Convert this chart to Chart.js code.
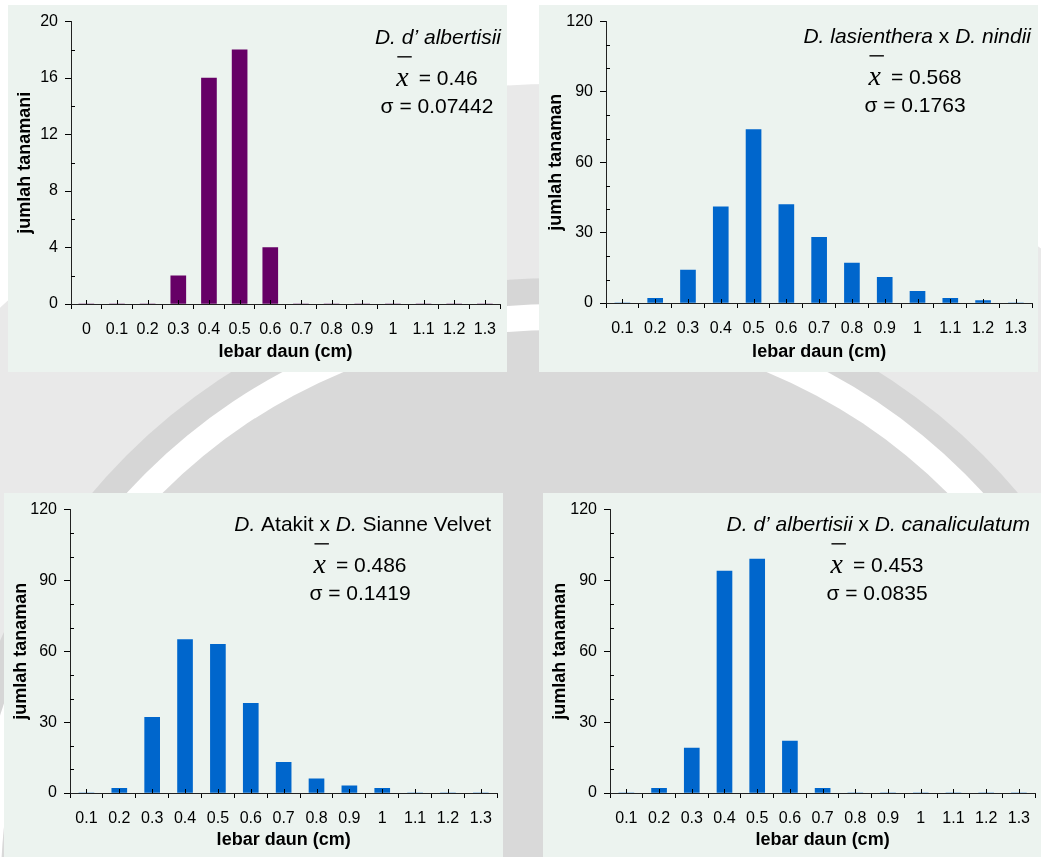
<!DOCTYPE html>
<html>
<head>
<meta charset="utf-8">
<script src="https://cdn.jsdelivr.net/npm/chart.js@4.4.0/dist/chart.umd.min.js"></script>
<style>
  html, body { margin: 0; padding: 0; background: #fff; }
  body { width: 1041px; height: 857px; position: relative; overflow: hidden; }
  .wm { position: absolute; border-radius: 50%; }
  .panel { position: absolute; background: #ecf3ef; }
  .panel canvas { display: block; }
</style>
</head>
<body>
<!-- watermark latar (lingkaran abu-abu) -->
<div class="wm" style="left:-245px;top:84px;width:1600px;height:1600px;background:#e9e9e9"></div>
<div class="wm" style="left:-51px;top:278px;width:1212px;height:1212px;background:#d6d6d6"></div>
<div class="wm" style="left:-25px;top:304px;width:1160px;height:1160px;background:#fff"></div>
<div class="wm" style="left:1px;top:330px;width:1108px;height:1108px;background:#d9d9d9"></div>

<div class="panel" style="left:8px;top:5px;width:499px;height:367px"><canvas id="c1" width="499" height="367"></canvas></div>
<div class="panel" style="left:539px;top:5px;width:499px;height:367px"><canvas id="c2" width="499" height="367"></canvas></div>
<div class="panel" style="left:4px;top:493px;width:499px;height:364px"><canvas id="c3" width="499" height="364"></canvas></div>
<div class="panel" style="left:543px;top:493px;width:498px;height:364px"><canvas id="c4" width="498" height="364"></canvas></div>
<script>
// kelas lebar daun (cm)
var lebar1 = ['0', '0.1', '0.2', '0.3', '0.4', '0.5', '0.6', '0.7', '0.8', '0.9', '1', '1.1', '1.2', '1.3'];
var lebar = ['0.1', '0.2', '0.3', '0.4', '0.5', '0.6', '0.7', '0.8', '0.9', '1', '1.1', '1.2', '1.3'];

// jumlah tanaman per kelas
var jumlah1 = [0, 0, 0, 2, 16, 18, 4, 0, 0, 0, 0, 0, 0, 0];   // D. d' albertisii
var jumlah2 = [0, 2, 14, 41, 74, 42, 28, 17, 11, 5, 2, 1, 0]; // D. lasienthera x D. nindii
var jumlah3 = [0, 2, 32, 65, 63, 38, 13, 6, 3, 2, 0, 0, 0];   // D. Atakit x D. Sianne Velvet
var jumlah4 = [0, 2, 19, 94, 99, 22, 2, 0, 0, 0, 0, 0, 0];    // D. d' albertisii x D. canaliculatum

// label sumbu y
var yTicks1 = [0, 4, 8, 12, 16, 20];
var yTicks = [0, 30, 60, 90, 120];

var FONT = "'Liberation Sans', Arial, sans-serif";

// tick kecil, judul spesies, rata-rata dan simpangan baku
var hiasan = {
  id: 'hiasan',
  afterDatasetsDraw: function(chart, args, o) {
    var ctx = chart.ctx, x = chart.scales.x, y = chart.scales.y;
    ctx.save();
    ctx.strokeStyle = '#000';
    ctx.lineWidth = 1;
    ctx.beginPath();
    for (var i = 0; i < x.ticks.length; i++) {
      var px = Math.round(x.getPixelForTick(i)) + 0.5;
      ctx.moveTo(px, y.bottom);
      ctx.lineTo(px, y.bottom - 4);
    }
    for (var v = o.minor; v < y.max; v += o.minor) {
      if (v % o.major === 0) continue;
      var py = Math.round(y.getPixelForValue(v)) + 0.5;
      ctx.moveTo(y.right, py);
      ctx.lineTo(y.right + 4, py);
    }
    ctx.stroke();

    // judul (campuran miring / tegak), rata kanan
    ctx.fillStyle = '#000';
    ctx.textBaseline = 'middle';
    ctx.textAlign = 'left';
    var fIt = 'italic 21px ' + FONT, fNo = '21px ' + FONT;
    var total = 0;
    o.title.forEach(function(s) { ctx.font = s[1] ? fIt : fNo; total += ctx.measureText(s[0]).width; });
    var tx = o.titleRight - total;
    o.title.forEach(function(s) {
      ctx.font = s[1] ? fIt : fNo;
      ctx.fillText(s[0], tx, o.titleY);
      tx += ctx.measureText(s[0]).width;
    });

    // x-bar
    var fX = 'italic 28px "Liberation Serif", serif';
    ctx.font = fX;
    var wx = ctx.measureText('x').width;
    ctx.font = fNo;
    var wm = ctx.measureText(o.mean).width;
    var gap = 10;
    var x0 = o.cx - (wx + gap + wm) / 2;
    var yMean = o.titleY + 41;
    ctx.font = fX;
    ctx.fillText('x', x0, yMean);
    ctx.font = fNo;
    ctx.fillText(o.mean, x0 + wx + gap, yMean);
    ctx.fillStyle = '#222';
    ctx.fillRect(x0 + 1, o.titleY + 18, wx + 2, 1.6);

    // sigma
    ctx.fillStyle = '#000';
    ctx.textAlign = 'center';
    ctx.fillText(o.sd, o.cx, o.titleY + 69);
    ctx.restore();
  }
};

function buatGrafik(id, labels, values, warna, ticksY, major, minor, box, teks) {
  var canvas = document.getElementById(id);
  var W = canvas.width, H = canvas.height;
  return new Chart(canvas.getContext('2d'), {
    type: 'bar',
    data: {
      labels: labels,
      datasets: [{
        data: values,
        backgroundColor: warna,
        barThickness: 15
      }]
    },
    options: {
      responsive: false,
      animation: false,
      layout: { padding: { top: box.top, right: W - box.right, left: 0, bottom: 0 } },
      scales: {
        x: {
          offset: true,
          grid: { offset: true, drawOnChartArea: false, tickLength: 5, color: '#000' },
          border: { color: '#222' },
          ticks: { color: '#000', font: { family: FONT, size: 16 }, padding: 11, maxRotation: 0, autoSkip: false },
          title: { display: true, text: 'lebar daun (cm)', color: '#000',
                   font: { family: FONT, size: 18, weight: 'bold' }, padding: { top: 0, bottom: box.xtb } },
          afterFit: function(s) { s.height = H - box.bottom; }
        },
        y: {
          min: 0,
          max: ticksY[ticksY.length - 1],
          afterBuildTicks: function(s) { s.ticks = ticksY.map(function(v) { return { value: v }; }); },
          grid: { drawOnChartArea: false, tickLength: 6, color: '#000' },
          border: { color: '#222' },
          ticks: { color: '#000', font: { family: FONT, size: 16 }, padding: 7 },
          title: { display: true, text: teks.ytitle, color: '#000',
                   font: { family: FONT, size: 18, weight: 'bold' }, padding: { top: 6, bottom: 0 } },
          afterFit: function(s) { s.width = box.left; }
        }
      },
      plugins: {
        legend: { display: false },
        tooltip: { enabled: false },
        hiasan: {
          major: major, minor: minor,
          title: teks.title, titleRight: teks.titleRight, titleY: teks.titleY,
          cx: teks.cx, mean: teks.mean, sd: teks.sd
        }
      }
    },
    plugins: [hiasan]
  });
}

buatGrafik('c1', lebar1, jumlah1, '#660066', yTicks1, 4, 2,
  { left: 63, top: 15, right: 499, bottom: 299, xtb: 9 },
  { ytitle: 'jumlah tanamani', title: [['D. d\u2019 albertisii', true]],
    titleRight: 493, titleY: 33, cx: 429, mean: '= 0.46', sd: '\u03c3 = 0.07442' });

buatGrafik('c2', lebar, jumlah2, '#0066cc', yTicks, 30, 10,
  { left: 67, top: 16, right: 499, bottom: 298, xtb: 9 },
  { ytitle: 'jumlah tanaman', title: [['D. lasienthera', true], [' x ', false], ['D. nindii', true]],
    titleRight: 492, titleY: 32, cx: 376, mean: '= 0.568', sd: '\u03c3 = 0.1763' });

buatGrafik('c3', lebar, jumlah3, '#0066cc', yTicks, 30, 10,
  { left: 66, top: 15, right: 498, bottom: 300, xtb: 6 },
  { ytitle: 'jumlah tanaman', title: [['D.', true], [' Atakit x ', false], ['D.', true], [' Sianne Velvet', false]],
    titleRight: 487, titleY: 32, cx: 356, mean: '= 0.486', sd: '\u03c3 = 0.1419' });

buatGrafik('c4', lebar, jumlah4, '#0066cc', yTicks, 30, 10,
  { left: 67, top: 15, right: 498, bottom: 300, xtb: 6 },
  { ytitle: 'jumlah tanaman', title: [['D. d\u2019 albertisii', true], [' x ', false], ['D. canaliculatum', true]],
    titleRight: 487, titleY: 32, cx: 334, mean: '= 0.453', sd: '\u03c3 = 0.0835' });
</script>
</body>
</html>
